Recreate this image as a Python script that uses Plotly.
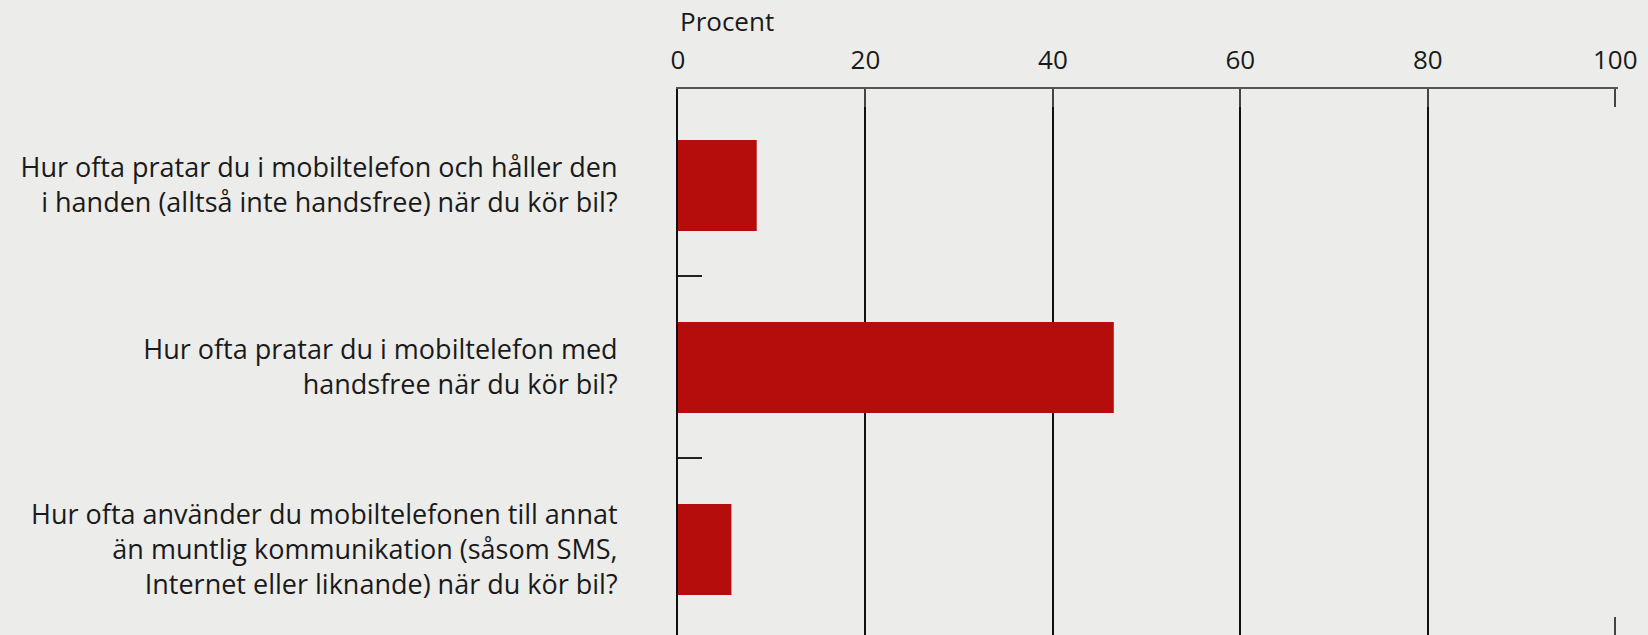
import plotly.graph_objects as go

categories = [
    "Hur ofta pratar du i mobiltelefon och håller den<br>i handen (alltså inte handsfree) när du kör bil?",
    "Hur ofta pratar du i mobiltelefon med<br>handsfree när du kör bil?",
    "Hur ofta använder du mobiltelefonen till annat<br>än muntlig kommunikation (såsom SMS,<br>Internet eller liknande) när du kör bil?",
]
values = [8.4, 46.5, 5.7]
x_ticks = [0, 20, 40, 60, 80, 100]
axis_title = "Procent"

positions = list(range(len(categories)))
boundaries = [p + 0.5 for p in positions[:-1]]

BG = "#ECECEA"
BAR = "#B40D0B"
TXT = "#1a1a1a"
FONT = "Open Sans"
X_RANGE = [0, 100.3]

fig = go.Figure()
fig.add_trace(go.Bar(
    x=values, y=positions, orientation="h", width=0.5,
    marker=dict(color=BAR, line=dict(width=0)),
    showlegend=False, hoverinfo="x",
))
fig.add_trace(go.Scatter(
    x=[], y=[], xaxis="x2", yaxis="y", mode="markers",
    showlegend=False, hoverinfo="skip",
))

fig.update_layout(
    width=1648, height=635,
    margin=dict(l=678, r=30, t=89, b=0, pad=0),
    paper_bgcolor=BG, plot_bgcolor=BG,
    font=dict(family=FONT, color=TXT),
    xaxis=dict(
        side="top", range=X_RANGE, tickvals=x_ticks,
        ticks="inside", ticklen=18, tickwidth=2, tickcolor="#444",
        showline=True, linecolor="#555", linewidth=2,
        showgrid=False, zeroline=False,
        tickfont=dict(size=26, color=TXT, family=FONT),
        ticklabelstandoff=8,
    ),
    xaxis2=dict(
        overlaying="x", side="bottom", anchor="y", range=X_RANGE,
        tickvals=[x_ticks[-1]], ticks="inside", ticklen=18, tickwidth=2, tickcolor="#444",
        showticklabels=False, showline=False, zeroline=False, showgrid=False,
        minor=dict(tickvals=x_ticks[1:-1], showgrid=True, gridcolor="#111", gridwidth=1.5, ticks=""),
    ),
    yaxis=dict(
        range=[len(categories) - 0.53, -0.53],
        tickvals=positions, ticktext=categories,
        ticks="", showline=True, linecolor="#111", linewidth=2,
        showgrid=False, zeroline=False,
        tickfont=dict(size=27, color=TXT, family=FONT),
        ticklabelstandoff=53,
        minor=dict(tickvals=boundaries, ticks="inside", ticklen=24, tickwidth=2,
                   tickcolor="#222", showgrid=False),
    ),
    annotations=[dict(
        text=axis_title, x=0, xref="x", xanchor="left",
        y=1, yref="paper", yanchor="bottom", yshift=48,
        showarrow=False, font=dict(size=26, color=TXT, family=FONT),
    )],
)

fig.write_html(
    "out.html",
    config={"displayModeBar": False},
    post_script="document.body.style.margin='0';document.body.style.overflow='hidden';",
)
